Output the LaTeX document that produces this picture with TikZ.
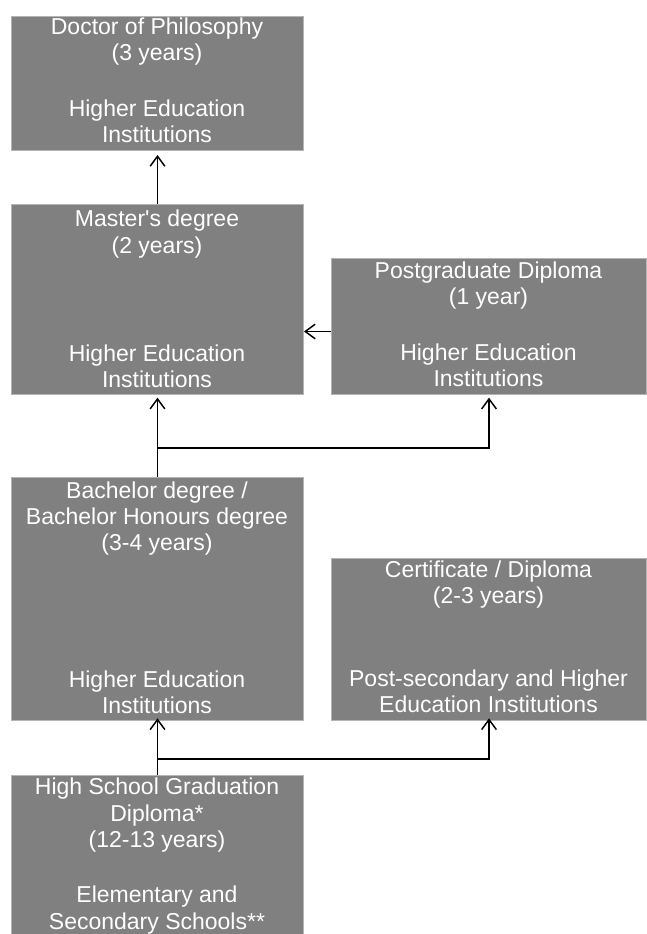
\documentclass[tikz,border=0pt]{standalone}
\usepackage{fontspec}
\setmainfont{Liberation Sans}
\usetikzlibrary{arrows.meta,calc}
\definecolor{boxgray}{HTML}{808080}
\definecolor{edgegray}{HTML}{B4B4B4}
\tikzset{
  stagebox/.style={rectangle, fill=boxgray, draw=edgegray, line width=0.75pt, inner sep=0pt, anchor=north west},
  lbl/.style={text=white, anchor=base, inner sep=0pt, font=\fontsize{17.25pt}{19.7pt}\selectfont},
  flow/.style={line width=1.1pt, draw=black},
  tip/.style={-{Straight Barb[length=7.5pt, width=11pt, line width=1.1pt]}},
}
\begin{document}
\begin{tikzpicture}[x=0.75pt, y=-0.75pt]
\useasboundingbox (0,0) rectangle (646,934);
% boxes
\node[stagebox, minimum width=219pt, minimum height=100.5pt] (phd) at (11,16) {};
\node[stagebox, minimum width=219pt, minimum height=142.5pt] (ms) at (11,204) {};
\node[stagebox, minimum width=236.25pt, minimum height=102pt] (pgd) at (331,258) {};
\node[stagebox, minimum width=219pt, minimum height=182.25pt] (ba) at (11,477) {};
\node[stagebox, minimum width=236.25pt, minimum height=121.5pt] (cert) at (331,558) {};
\node[stagebox, minimum width=219pt, minimum height=120pt] (hs) at (11,775) {};
% texts
\node[lbl] (phd1) at (157,35) {Doctor of Philosophy};
\node[lbl] (phd2) at (157,61) {(3 years)};
\node[lbl] (phd3) at (157,117) {Higher Education};
\node[lbl] (phd4) at (157,143) {Institutions};
\node[lbl] (ms1) at (157,227) {Master\textquotesingle s degree};
\node[lbl] (ms2) at (157,253) {(2 years)};
\node[lbl] (ms3) at (157,361) {Higher Education};
\node[lbl] (ms4) at (157,387) {Institutions};
\node[lbl] (pgd1) at (488.5,278) {Postgraduate Diploma};
\node[lbl] (pgd2) at (488.5,304) {(1 year)};
\node[lbl] (pgd3) at (488.5,360) {Higher Education};
\node[lbl] (pgd4) at (488.5,386) {Institutions};
\node[lbl] (ba1) at (157,498) {Bachelor degree /};
\node[lbl] (ba2) at (157,524) {Bachelor Honours degree};
\node[lbl] (ba3) at (157,550) {(3-4 years)};
\node[lbl] (ba4) at (157,687) {Higher Education};
\node[lbl] (ba5) at (157,713) {Institutions};
\node[lbl] (cert1) at (488.5,577) {Certificate / Diploma};
\node[lbl] (cert2) at (488.5,603) {(2-3 years)};
\node[lbl] (cert3) at (488.5,686) {Post-secondary and Higher};
\node[lbl] (cert4) at (488.5,712) {Education Institutions};
\node[lbl] (hs1) at (157,794) {High School Graduation};
\node[lbl] (hs2) at (157,821) {Diploma*};
\node[lbl] (hs3) at (157,847) {(12-13 years)};
\node[lbl] (hs4) at (157,902) {Elementary and};
\node[lbl] (hs5) at (157,929) {Secondary Schools**};
% junction coordinates
\coordinate (j1) at (157,448);
\coordinate (j2) at (157,759);
\coordinate (pw) at ($(pgd.west)+(0,5)$);
% connectors
\draw[flow, tip, shorten >=3pt] (ms.north) -- (phd.south);
\draw[flow, tip] (pw) -- (pw -| ms.east);
\draw[flow, tip, shorten >=2pt] (ba.north) -- (ms.south);
\draw[flow, tip, shorten >=2pt] (j1) -- (j1 -| pgd.south) -- (pgd.south);
\draw[flow, tip, shorten >=-2pt] (hs.north) -- (ba.south);
\draw[flow, tip, shorten >=-2pt] (j2) -- (j2 -| cert.south) -- (cert.south);
\end{tikzpicture}
\end{document}
